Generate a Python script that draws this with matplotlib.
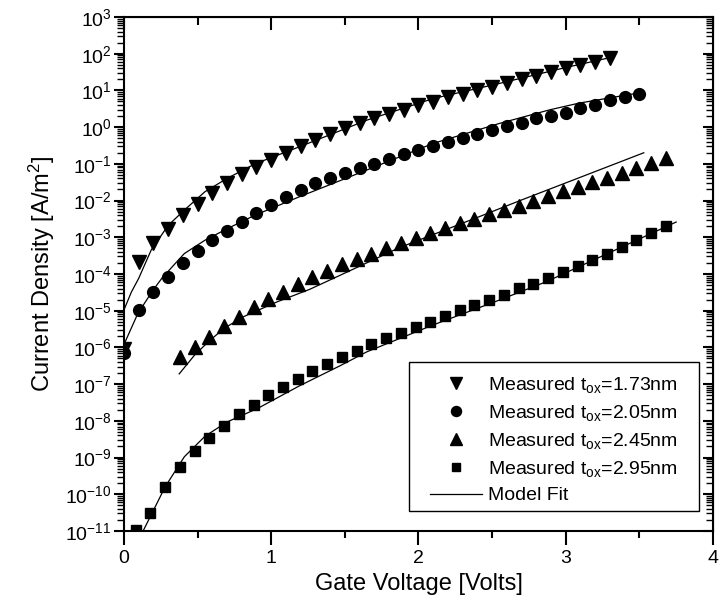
import matplotlib
matplotlib.use('Agg')
import matplotlib.pyplot as plt
from matplotlib.patches import Rectangle
from matplotlib.ticker import LogLocator, MultipleLocator, NullFormatter

plt.rcParams['font.family'] = ['Liberation Sans', 'DejaVu Sans']
plt.rcParams['mathtext.default'] = 'regular'

# measured data, t_ox = 1.73 nm (down triangles)
v_173 = [0.0, 0.10, 0.20, 0.30, 0.40, 0.50, 0.60, 0.70, 0.80, 0.90, 1.0, 1.1, 1.2,
         1.3, 1.4, 1.5, 1.6, 1.7, 1.8, 1.9, 2.0, 2.1, 2.2, 2.3, 2.4, 2.5, 2.6, 2.7,
         2.8, 2.9, 3.0, 3.1, 3.2, 3.3]
j_173 = [9.3e-7, 2.1e-4, 7.1e-4, 1.7e-3, 4.0e-3, 8.3e-3, 1.6e-2, 3.1e-2, 5.2e-2,
         8.3e-2, 0.13, 0.20, 0.31, 0.45, 0.65, 0.93, 1.26, 1.74, 2.3, 3.0, 4.0, 4.9,
         6.5, 7.9, 10.2, 12.6, 15.5, 20.0, 24.5, 32.0, 40.0, 49.0, 60.0, 74.0]

# t_ox = 2.05 nm (circles)
v_205 = [0.0, 0.10, 0.20, 0.30, 0.40, 0.50, 0.60, 0.70, 0.80, 0.90, 1.0, 1.1, 1.2,
         1.3, 1.4, 1.5, 1.6, 1.7, 1.8, 1.9, 2.0, 2.1, 2.2, 2.3, 2.4, 2.5, 2.6, 2.7,
         2.8, 2.9, 3.0, 3.1, 3.2, 3.3, 3.4, 3.5]
j_205 = [6.9e-7, 1.05e-5, 3.3e-5, 8.3e-5, 2.0e-4, 4.3e-4, 8.3e-4, 1.5e-3, 2.6e-3,
         4.7e-3, 7.8e-3, 1.26e-2, 1.95e-2, 2.95e-2, 4.0e-2, 5.8e-2, 7.8e-2, 0.10,
         0.135, 0.19, 0.24, 0.31, 0.40, 0.52, 0.65, 0.81, 1.07, 1.3, 1.74, 2.0, 2.5,
         3.4, 4.0, 5.5, 6.5, 7.9]

# t_ox = 2.45 nm (up triangles)
v_245 = [0.38, 0.48, 0.58, 0.68, 0.78, 0.88, 0.98, 1.08, 1.18, 1.28, 1.38, 1.48,
         1.58, 1.68, 1.78, 1.88, 1.98, 2.08, 2.18, 2.28, 2.38, 2.48, 2.58, 2.68,
         2.78, 2.88, 2.98, 3.08, 3.18, 3.28, 3.38, 3.48, 3.58, 3.68]
j_245 = [5.4e-7, 1.05e-6, 1.95e-6, 3.8e-6, 6.8e-6, 1.23e-5, 2.1e-5, 3.3e-5, 5.2e-5,
         8.3e-5, 1.23e-4, 1.86e-4, 2.5e-4, 3.6e-4, 5.0e-4, 7.1e-4, 9.3e-4, 1.32e-3,
         1.74e-3, 2.4e-3, 3.1e-3, 4.3e-3, 5.5e-3, 7.1e-3, 1.0e-2, 1.35e-2, 1.86e-2,
         2.4e-2, 3.2e-2, 4.2e-2, 5.8e-2, 7.6e-2, 0.107, 0.14]

# t_ox = 2.95 nm (squares)
v_295 = [0.08, 0.18, 0.28, 0.38, 0.48, 0.58, 0.68, 0.78, 0.88, 0.98, 1.08, 1.18,
         1.28, 1.38, 1.48, 1.58, 1.68, 1.78, 1.88, 1.98, 2.08, 2.18, 2.28, 2.38,
         2.48, 2.58, 2.68, 2.78, 2.88, 2.98, 3.08, 3.18, 3.28, 3.38, 3.48, 3.58, 3.68]
j_295 = [1.05e-11, 3.0e-11, 1.55e-10, 5.6e-10, 1.5e-9, 3.5e-9, 7.2e-9, 1.5e-8,
         2.7e-8, 5.0e-8, 8.5e-8, 1.38e-7, 2.3e-7, 3.6e-7, 5.5e-7, 8.1e-7, 1.23e-6,
         1.78e-6, 2.5e-6, 3.6e-6, 5.0e-6, 7.1e-6, 1.05e-5, 1.41e-5, 2.0e-5, 2.75e-5,
         4.1e-5, 5.5e-5, 7.9e-5, 1.15e-4, 1.66e-4, 2.4e-4, 3.6e-4, 5.4e-4, 8.3e-4,
         1.29e-3, 2.0e-3]

# model fit curves
fit_v_173 = [0.0, 0.05, 0.10, 0.185, 0.30, 0.41, 0.55, 0.70, 0.89, 1.2, 1.65, 2.1,
             2.55, 3.0, 3.33]
fit_j_173 = [1.05e-5, 3.2e-5, 7.6e-5, 4.5e-4, 2.1e-3, 5.5e-3, 1.74e-2, 4.0e-2, 0.10,
             0.30, 1.55, 6.0, 15.5, 42.0, 83.0]

fit_v_205 = [0.0, 0.095, 0.197, 0.26, 0.41, 0.55, 0.705, 0.89, 1.19, 1.65, 2.1, 2.55,
             2.89, 3.09, 3.48]
fit_j_205 = [1.2e-6, 8.5e-6, 3.6e-5, 7.9e-5, 3.6e-4, 8.3e-4, 1.74e-3, 4.0e-3,
             1.26e-2, 6.8e-2, 0.36, 1.26, 2.95, 4.5, 8.3]

fit_v_245 = [0.375, 0.48, 0.575, 0.68, 0.81, 1.04, 1.26, 1.47, 1.87, 2.41, 2.69, 3.53]
fit_j_245 = [1.9e-7, 6.2e-7, 1.45e-6, 3.3e-6, 6.8e-6, 1.74e-5, 3.8e-5, 9.3e-5,
             5.2e-4, 3.6e-3, 1.0e-2, 0.2]

fit_v_295 = [0.13, 0.28, 0.41, 0.55, 0.70, 0.91, 1.19, 1.47, 1.65, 2.10, 2.55, 2.87,
             3.75]
fit_j_295 = [1.0e-11, 1.6e-10, 1.05e-9, 3.8e-9, 9.3e-9, 2.2e-8, 8.9e-8, 3.2e-7,
             7.6e-7, 4.1e-6, 1.95e-5, 6.2e-5, 2.6e-3]

labels = [r'Measured t$_{ox}$=1.73nm', r'Measured t$_{ox}$=2.05nm',
          r'Measured t$_{ox}$=2.45nm', r'Measured t$_{ox}$=2.95nm']

fig = plt.figure(figsize=(7.22, 6.04), dpi=100)
ax = fig.add_axes([0.1717, 0.1209, 0.8158, 0.851])

# fit lines first so markers sit on top
line_kw = dict(color='black', lw=0.9)
ax.plot(fit_v_173, fit_j_173, **line_kw)
ax.plot(fit_v_205, fit_j_205, **line_kw)
ax.plot(fit_v_245, fit_j_245, **line_kw)
ax.plot(fit_v_295, fit_j_295, label='Model Fit', **line_kw)

mk_kw = dict(ls='none', color='black', mec='black')
ax.plot(v_173, j_173, marker='v', ms=10, label=labels[0], **mk_kw)
ax.plot(v_205, j_205, marker='o', ms=8.5, label=labels[1], **mk_kw)
ax.plot(v_245, j_245, marker='^', ms=10, label=labels[2], **mk_kw)
ax.plot(v_295, j_295, marker='s', ms=7.5, label=labels[3], **mk_kw)

ax.set_yscale('log')
ax.set_xlim(0, 4)
ax.set_ylim(1e-11, 1e3)

ax.xaxis.set_major_locator(MultipleLocator(1))
ax.xaxis.set_minor_locator(MultipleLocator(0.5))
ax.yaxis.set_major_locator(LogLocator(base=10, numticks=100))
ax.yaxis.set_minor_locator(LogLocator(base=10, subs=range(2, 10), numticks=100))
ax.yaxis.set_minor_formatter(NullFormatter())

for s in ax.spines.values():
    s.set_linewidth(1.5)

ax.tick_params(axis='x', which='major', direction='out', length=10, width=1.5,
               labelsize=14, pad=4)
ax.tick_params(axis='x', which='minor', direction='out', length=5, width=1.5)
ax.tick_params(axis='y', which='major', direction='out', length=7, width=1.5,
               labelsize=14, pad=2)
ax.tick_params(axis='y', which='minor', direction='out', length=5, width=1)

# top and right ticks point inward
top = ax.secondary_xaxis('top')
top.xaxis.set_major_locator(MultipleLocator(1))
top.xaxis.set_minor_locator(MultipleLocator(0.5))
top.tick_params(which='major', direction='in', length=9, width=1.5, labeltop=False)
top.tick_params(which='minor', direction='in', length=6, width=1.5)

right = ax.secondary_yaxis('right')
right.yaxis.set_major_locator(LogLocator(base=10, numticks=100))
right.yaxis.set_minor_locator(LogLocator(base=10, subs=range(2, 10), numticks=100))
right.yaxis.set_minor_formatter(NullFormatter())
right.tick_params(which='major', direction='in', length=7, width=1.5, labelright=False)
right.tick_params(which='minor', direction='in', length=5, width=1)

ax.set_xlabel('Gate Voltage [Volts]', fontsize=17, labelpad=4)
ax.set_ylabel(r'Current Density [A/m$^2$]', fontsize=17, labelpad=6)

handles, labs = ax.get_legend_handles_labels()
order = [1, 2, 3, 4, 0]
leg = ax.legend([handles[i] for i in order], [labs[i] for i in order],
                loc='upper left', bbox_to_anchor=(0.5195, 0.3035), borderaxespad=0,
                fontsize=14, frameon=False, handlelength=2.7, handletextpad=0.28,
                labelspacing=0.41, borderpad=0, markerscale=0.85)
ax.add_patch(Rectangle((0.4839, 0.0389), 0.4924, 0.2899, transform=ax.transAxes,
                       fill=False, edgecolor='black', lw=1.0, zorder=5))

fig.savefig('out.png', dpi=100)
